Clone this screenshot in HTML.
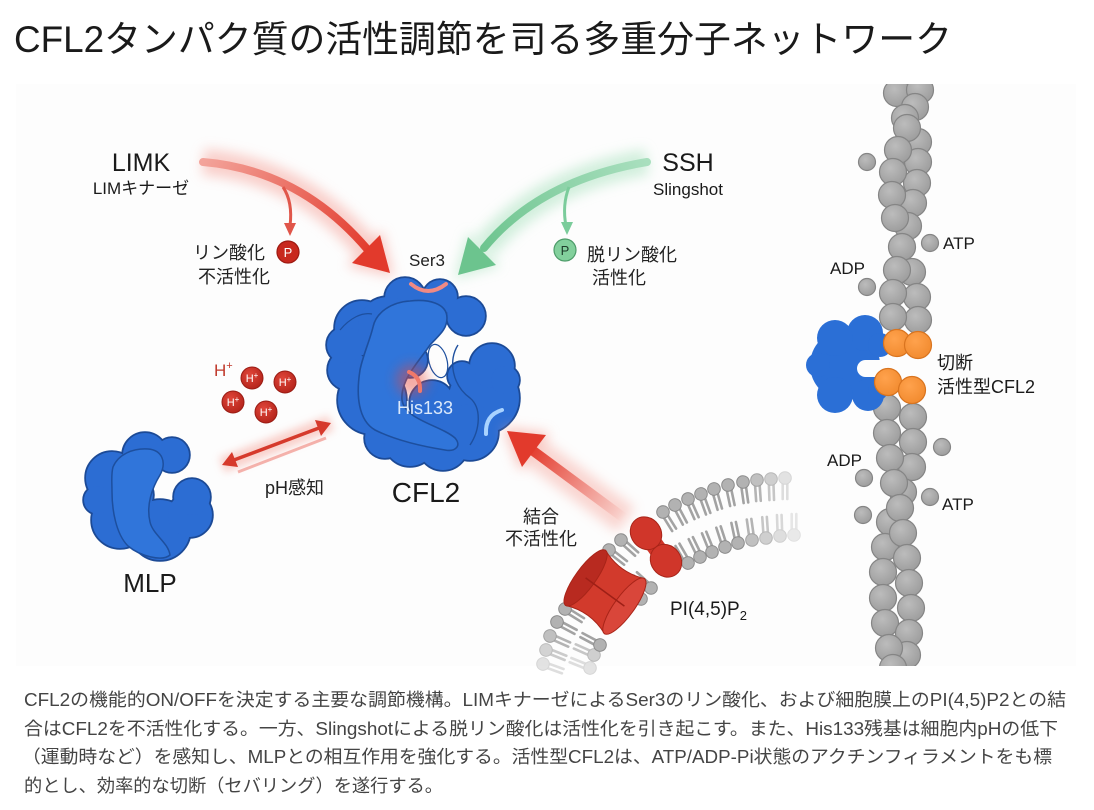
<!DOCTYPE html>
<html><head><meta charset="utf-8">
<style>
html,body{margin:0;padding:0;background:#fff}
svg{display:block}
text{font-family:"Liberation Sans","Noto Sans CJK JP",sans-serif}
</style></head>
<body>
<svg width="1094" height="810" viewBox="0 0 1094 810" xmlns="http://www.w3.org/2000/svg">
<defs>
  <filter id="blur6" x="-50%" y="-50%" width="200%" height="200%"><feGaussianBlur stdDeviation="6"/></filter>
  <filter id="blur4" x="-50%" y="-50%" width="200%" height="200%"><feGaussianBlur stdDeviation="4"/></filter>
  <linearGradient id="limkG" gradientUnits="userSpaceOnUse" x1="203" y1="162" x2="370" y2="255"><stop offset="0" stop-color="#f3a39a"/><stop offset="1" stop-color="#e23a2c"/></linearGradient>
  <linearGradient id="sshG" gradientUnits="userSpaceOnUse" x1="647" y1="162" x2="480" y2="252"><stop offset="0" stop-color="#a9dfbe"/><stop offset="1" stop-color="#6cc48e"/></linearGradient>
  <linearGradient id="memG" gradientUnits="userSpaceOnUse" x1="624" y1="518" x2="530" y2="448"><stop offset="0" stop-color="#e33a2c" stop-opacity="0"/><stop offset="1" stop-color="#e33a2c"/></linearGradient>
  <radialGradient id="gg" cx="0.4" cy="0.35" r="0.7"><stop offset="0" stop-color="#bcbcbc"/><stop offset="1" stop-color="#9c9c9c"/></radialGradient>
  <radialGradient id="hg" cx="0.4" cy="0.35" r="0.7"><stop offset="0" stop-color="#e0463a"/><stop offset="1" stop-color="#b3231a"/></radialGradient>
  <radialGradient id="og" cx="0.4" cy="0.35" r="0.7"><stop offset="0" stop-color="#ffa24d"/><stop offset="1" stop-color="#f18a2e"/></radialGradient>
  <clipPath id="panelClip"><rect x="0" y="84" width="1094" height="582"/></clipPath>
  <g id="lip">
    <line x1="-2.3" y1="5" x2="-2.3" y2="21" stroke="#a3a3a3" stroke-width="2.6" stroke-linecap="round"/>
    <line x1="2.3" y1="5" x2="2.3" y2="21" stroke="#a3a3a3" stroke-width="2.6" stroke-linecap="round"/>
    <circle r="6.3" fill="#b2b2b2" stroke="#8c8c8c" stroke-width="1"/>
  </g>
  <g id="c2">
    <circle cx="405" cy="298" r="20"/><circle cx="440" cy="297" r="17"/><circle cx="466" cy="316" r="19"/>
    <circle cx="362" cy="328" r="27"/><circle cx="388" cy="327" r="30"/><circle cx="348" cy="370" r="20"/>
    <circle cx="372" cy="400" r="34"/><circle cx="385" cy="438" r="20"/><circle cx="410" cy="440" r="26"/>
    <circle cx="443" cy="445" r="25"/><circle cx="484" cy="398" r="35"/><circle cx="492" cy="366" r="22"/>
    <circle cx="470" cy="432" r="28"/><circle cx="410" cy="360" r="17"/><circle cx="432" cy="403" r="22"/>
    <circle cx="462" cy="376" r="14"/><circle cx="345" cy="345" r="18"/><circle cx="505" cy="380" r="14"/>
  </g>
  <g id="mlp">
    <circle cx="112" cy="478" r="26"/><circle cx="145" cy="455" r="22"/><circle cx="172" cy="455" r="17"/>
    <circle cx="120" cy="520" r="28"/><circle cx="160" cy="530" r="30"/><circle cx="190" cy="515" r="22"/>
    <circle cx="192" cy="497" r="18"/><circle cx="135" cy="495" r="18"/><circle cx="98" cy="500" r="14"/>
  </g>
</defs>

<rect x="0" y="0" width="1094" height="810" fill="#fff"/>
<rect x="16" y="84" width="1060" height="582" fill="#fdfdfd"/>

<!-- Title -->
<text x="14" y="52" font-size="37" textLength="938" lengthAdjust="spacingAndGlyphs" fill="#1a1a1a">CFL2タンパク質の活性調節を司る多重分子ネットワーク</text>

<!-- LIMK arrow -->
<path d="M203,162 Q300,170 368,250" stroke="#f6a9a0" stroke-width="26" fill="none" opacity="0.55" filter="url(#blur6)"/>
<polygon points="394,277 382,230 347,266" fill="#f6a9a0" opacity="0.6" filter="url(#blur6)"/>
<path d="M203,162 Q300,170 368,250" stroke="url(#limkG)" stroke-width="8" fill="none" stroke-linecap="round"/>
<polygon points="390,273 380,235 352,263" fill="#e23a2c"/>
<path d="M283,187 Q293,202 290,226" stroke="#e0564a" stroke-width="3" fill="none"/>
<polygon points="290,236 284,223 296,223" fill="#e0564a"/>

<!-- SSH arrow -->
<path d="M647,162 Q540,180 484,248" stroke="#bfe9cf" stroke-width="26" fill="none" opacity="0.7" filter="url(#blur6)"/>
<polygon points="454,279 500,266 468,232" fill="#bfe9cf" opacity="0.7" filter="url(#blur6)"/>
<path d="M647,162 Q540,180 484,248" stroke="url(#sshG)" stroke-width="8" fill="none" stroke-linecap="round"/>
<polygon points="458,275 496,265 468,237" fill="#6cc48e"/>
<path d="M569,187 Q562,205 566,226" stroke="#7bcc9b" stroke-width="3" fill="none"/>
<polygon points="567,235 561,222 573,222" fill="#7bcc9b"/>

<!-- LIMK / SSH labels -->
<text x="141" y="171" font-size="25" text-anchor="middle" fill="#1a1a1a">LIMK</text>
<text x="141" y="194" font-size="17" text-anchor="middle" fill="#1a1a1a">LIMキナーゼ</text>
<text x="688" y="171" font-size="25" text-anchor="middle" fill="#1a1a1a">SSH</text>
<text x="688" y="195" font-size="17" text-anchor="middle" fill="#1a1a1a">Slingshot</text>

<!-- P circles -->
<circle cx="288" cy="252" r="11" fill="#c8281e" stroke="#9e1a12" stroke-width="1.2"/>
<text x="288" y="257" font-size="13" text-anchor="middle" fill="#fff">P</text>
<text x="193" y="259" font-size="18" fill="#222">リン酸化</text>
<text x="198" y="283" font-size="18" fill="#222">不活性化</text>

<circle cx="565" cy="250" r="11" fill="#82d09c" stroke="#4e9c6a" stroke-width="1.2"/>
<text x="565" y="255" font-size="13" text-anchor="middle" fill="#1e3d2a">P</text>
<text x="587" y="261" font-size="18" fill="#222">脱リン酸化</text>
<text x="592" y="284" font-size="18" fill="#222">活性化</text>

<text x="427" y="266" font-size="17" text-anchor="middle" fill="#222">Ser3</text>

<!-- CFL2 protein -->
<use href="#c2" fill="#1c4a96" stroke="#1c4a96" stroke-width="3.5"/>
<use href="#c2" fill="#2c6dd3"/>
<path d="M373,327 C376,312 392,302 410,301 C428,299 447,303 447,318 C447,330 438,336 430,345 C420,360 400,380 402,400 C405,420 440,425 455,438 C462,446 455,452 445,450 C420,446 395,440 375,430 C358,420 356,395 360,370 C363,355 370,340 373,327 Z" fill="#3075da" stroke="#1d4f9e" stroke-width="1.6"/>
<path d="M458,345 C448,360 452,385 470,398 C482,408 480,430 470,445" fill="none" stroke="#1d4f9e" stroke-width="1.4"/>
<path d="M340,330 C350,318 362,312 372,314" fill="none" stroke="#1d4f9e" stroke-width="1.2"/>
<ellipse cx="438" cy="361" rx="9" ry="17" transform="rotate(-15 438 361)" fill="#fdfdfd" stroke="#1d4f9e" stroke-width="1.2"/>
<circle cx="412" cy="380" r="16" fill="#e8463a" opacity="0.45" filter="url(#blur6)"/>
<path d="M411,284 Q428,298 446,284" stroke="#f08a84" stroke-width="4" fill="none" stroke-linecap="round"/>
<path d="M409,372 Q421,377 420,391" stroke="#f0796a" stroke-width="4" fill="none" stroke-linecap="round"/>
<path d="M486,434 Q485,415 502,410" stroke="#a9d3ff" stroke-width="4" fill="none" stroke-linecap="round"/>
<text x="425" y="414" font-size="18" text-anchor="middle" fill="#dbe9fb">His133</text>
<text x="426" y="502" font-size="28" text-anchor="middle" fill="#1a1a1a">CFL2</text>

<!-- H+ -->
<text x="214" y="376" font-size="17" fill="#c0392b">H<tspan font-size="11" dy="-7">+</tspan></text>
<g font-size="11" fill="#fff" text-anchor="middle">
  <circle cx="252" cy="378" r="11" fill="url(#hg)" stroke="#9a1c14" stroke-width="1"/>
  <text x="252" y="382">H<tspan font-size="8" dy="-4">+</tspan></text>
  <circle cx="285" cy="382" r="11" fill="url(#hg)" stroke="#9a1c14" stroke-width="1"/>
  <text x="285" y="386">H<tspan font-size="8" dy="-4">+</tspan></text>
  <circle cx="233" cy="402" r="11" fill="url(#hg)" stroke="#9a1c14" stroke-width="1"/>
  <text x="233" y="406">H<tspan font-size="8" dy="-4">+</tspan></text>
  <circle cx="266" cy="412" r="11" fill="url(#hg)" stroke="#9a1c14" stroke-width="1"/>
  <text x="266" y="416">H<tspan font-size="8" dy="-4">+</tspan></text>
</g>

<!-- pH double arrow -->
<line x1="222" y1="465" x2="331" y2="423" stroke="#f5a49a" stroke-width="16" opacity="0.5" filter="url(#blur4)"/>
<line x1="238" y1="472" x2="326" y2="438" stroke="#f29a92" stroke-width="3" opacity="0.75"/>
<line x1="234" y1="460" x2="319" y2="428" stroke="#d63a2c" stroke-width="3.5"/>
<polygon points="331,423 321,436 315,420" fill="#d63a2c"/>
<polygon points="222,465 238,467 232,452" fill="#d63a2c"/>
<text x="265" y="494" font-size="18" fill="#222">pH感知</text>

<!-- MLP -->
<use href="#mlp" fill="#1c4a96" stroke="#1c4a96" stroke-width="3.5"/>
<use href="#mlp" fill="#2c6dd3"/>
<path d="M113,467 C118,455 132,448 148,449 C162,450 167,462 160,475 C152,488 146,505 150,522 C153,535 168,542 170,555 C162,562 140,556 128,546 C116,534 112,510 112,492 C112,482 111,474 113,467 Z" fill="#3075da" stroke="#1d4f9e" stroke-width="1.5"/>
<text x="150" y="592" font-size="26" text-anchor="middle" fill="#1a1a1a">MLP</text>

<!-- membrane arrow -->
<path d="M626,520 L532,450" stroke="#f5a49a" stroke-width="30" opacity="0.45" filter="url(#blur6)"/>
<polygon points="503,427 550,433 520,471" fill="#f5a49a" opacity="0.6" filter="url(#blur6)"/>
<line x1="624" y1="518" x2="532" y2="450" stroke="url(#memG)" stroke-width="10"/>
<polygon points="507,431 546,435 522,467" fill="#e23a2c"/>
<text x="523" y="523" font-size="18" fill="#222">結合</text>
<text x="505" y="545" font-size="18" fill="#222">不活性化</text>

<!-- membrane lipids -->
<g>
  <use href="#lip" transform="translate(543,664) rotate(-70)" opacity="0.35"/>
  <use href="#lip" transform="translate(546,650) rotate(-68)" opacity="0.55"/>
  <use href="#lip" transform="translate(550,636) rotate(-66)" opacity="0.8"/>
  <use href="#lip" transform="translate(557,622) rotate(-62)"/>
  <use href="#lip" transform="translate(565,609) rotate(-58)"/>
  <use href="#lip" transform="translate(609,550) rotate(-52)"/>
  <use href="#lip" transform="translate(621,540) rotate(-48)"/>
  <use href="#lip" transform="translate(663,512) rotate(-32)"/>
  <use href="#lip" transform="translate(675,505) rotate(-28)"/>
  <use href="#lip" transform="translate(688,499) rotate(-24)"/>
  <use href="#lip" transform="translate(701,494) rotate(-20)"/>
  <use href="#lip" transform="translate(714,489) rotate(-16)"/>
  <use href="#lip" transform="translate(728,485) rotate(-12)"/>
  <use href="#lip" transform="translate(743,482) rotate(-8)"/>
  <use href="#lip" transform="translate(757,480) rotate(-4)" opacity="0.8"/>
  <use href="#lip" transform="translate(771,479) rotate(-2)" opacity="0.6"/>
  <use href="#lip" transform="translate(785,478) rotate(0)" opacity="0.35"/>

  <use href="#lip" transform="translate(590,668) rotate(112)" opacity="0.35"/>
  <use href="#lip" transform="translate(594,655) rotate(114)" opacity="0.6"/>
  <use href="#lip" transform="translate(600,645) rotate(118)"/>
  <use href="#lip" transform="translate(641,599) rotate(128)"/>
  <use href="#lip" transform="translate(651,588) rotate(132)"/>
  <use href="#lip" transform="translate(688,563) rotate(150)"/>
  <use href="#lip" transform="translate(700,557) rotate(154)"/>
  <use href="#lip" transform="translate(712,552) rotate(158)"/>
  <use href="#lip" transform="translate(725,547) rotate(162)"/>
  <use href="#lip" transform="translate(738,543) rotate(168)"/>
  <use href="#lip" transform="translate(752,540) rotate(172)" opacity="0.8"/>
  <use href="#lip" transform="translate(766,538) rotate(176)" opacity="0.6"/>
  <use href="#lip" transform="translate(780,536) rotate(178)" opacity="0.4"/>
  <use href="#lip" transform="translate(794,535) rotate(180)" opacity="0.25"/>
</g>
<!-- barrel protein -->
<g transform="translate(605,592) rotate(36)">
  <path d="M-24,-34 Q0,-24 24,-34 L24,34 Q0,24 -24,34 Z" fill="#d23a2c" stroke="#a82418" stroke-width="1"/>
  <ellipse cx="24" cy="0" rx="10" ry="34" fill="#d9463a" stroke="#a82418" stroke-width="1"/>
  <ellipse cx="-24" cy="0" rx="10" ry="34" fill="#b82a20" stroke="#a82418" stroke-width="1"/>
  <line x1="-24" y1="0" x2="24" y2="0" stroke="#9e1f16" stroke-width="1.5"/>
</g>
<!-- dumbbell protein -->
<g transform="translate(656,547) rotate(54)">
  <rect x="-6" y="-9" width="12" height="18" fill="#d0362a"/>
  <ellipse cx="-17" cy="0" rx="17" ry="15" fill="#d0362a" stroke="#a82418" stroke-width="1"/>
  <ellipse cx="17" cy="0" rx="17" ry="15" fill="#d0362a" stroke="#a82418" stroke-width="1"/>
</g>
<text x="670" y="615" font-size="19" fill="#1a1a1a">PI(4,5)P<tspan font-size="13" dy="5">2</tspan></text>

<!-- Actin filament -->
<g clip-path="url(#panelClip)" fill="url(#gg)" stroke="#858585" stroke-width="1.2">
  <circle cx="897" cy="93" r="13.5"/><circle cx="920" cy="90" r="13.5"/><circle cx="915" cy="107" r="13.5"/>
  <circle cx="905" cy="118" r="13.5"/><circle cx="918" cy="142" r="13.5"/><circle cx="907" cy="128" r="13.5"/>
  <circle cx="918" cy="162" r="13.5"/><circle cx="898" cy="150" r="13.5"/>
  <circle cx="917" cy="183" r="13.5"/><circle cx="893" cy="172" r="13.5"/>
  <circle cx="913" cy="203" r="13.5"/><circle cx="892" cy="195" r="13.5"/>
  <circle cx="908" cy="226" r="13.5"/><circle cx="895" cy="218" r="13.5"/>
  <circle cx="902" cy="247" r="13.5"/>
  <circle cx="912" cy="272" r="13.5"/><circle cx="897" cy="270" r="13.5"/>
  <circle cx="917" cy="297" r="13.5"/><circle cx="893" cy="293" r="13.5"/>
  <circle cx="918" cy="320" r="13.5"/><circle cx="893" cy="317" r="13.5"/>

  <circle cx="913" cy="417" r="13.5"/><circle cx="887" cy="408" r="13.5"/>
  <circle cx="913" cy="442" r="13.5"/><circle cx="887" cy="433" r="13.5"/>
  <circle cx="912" cy="467" r="13.5"/><circle cx="890" cy="458" r="13.5"/>
  <circle cx="903" cy="492" r="13.5"/><circle cx="894" cy="483" r="13.5"/>
  <circle cx="890" cy="522" r="13.5"/><circle cx="900" cy="508" r="13.5"/>
  <circle cx="885" cy="547" r="13.5"/><circle cx="903" cy="533" r="13.5"/>
  <circle cx="907" cy="558" r="13.5"/>
  <circle cx="883" cy="572" r="13.5"/><circle cx="909" cy="583" r="13.5"/>
  <circle cx="883" cy="598" r="13.5"/><circle cx="911" cy="608" r="13.5"/>
  <circle cx="885" cy="623" r="13.5"/><circle cx="909" cy="633" r="13.5"/>
  <circle cx="907" cy="655" r="13.5"/><circle cx="889" cy="648" r="13.5"/>
  <circle cx="893" cy="668" r="13.5"/>
</g>
<!-- nucleotides -->
<g fill="url(#gg)" stroke="#858585" stroke-width="1.2">
  <circle cx="867" cy="162" r="8.5"/><circle cx="930" cy="243" r="8.5"/><circle cx="867" cy="287" r="8.5"/>
  <circle cx="942" cy="447" r="8.5"/><circle cx="864" cy="478" r="8.5"/><circle cx="930" cy="497" r="8.5"/>
  <circle cx="863" cy="515" r="8.5"/>
</g>
<!-- CFL2 on actin -->
<g fill="#2b6fd6">
  <circle cx="845" cy="365" r="35"/><circle cx="865" cy="333" r="18"/><circle cx="835" cy="338" r="18"/>
  <circle cx="868" cy="395" r="16"/><circle cx="835" cy="395" r="18"/><circle cx="880" cy="345" r="12"/>
  <circle cx="878" cy="390" r="10"/><circle cx="818" cy="365" r="12"/>
</g>
<rect x="857" y="360" width="34" height="17" rx="8.5" fill="#fdfdfd"/>
<g fill="url(#og)" stroke="#d9741f" stroke-width="1.2">
  <circle cx="897" cy="343" r="13.5"/><circle cx="918" cy="345" r="13.5"/>
  <circle cx="888" cy="382" r="13.5"/><circle cx="912" cy="390" r="13.5"/>
</g>
<g font-size="17" fill="#1a1a1a">
  <text x="943" y="249">ATP</text>
  <text x="830" y="274">ADP</text>
  <text x="937" y="369" font-size="18">切断</text>
  <text x="937" y="393" font-size="18">活性型CFL2</text>
  <text x="827" y="466">ADP</text>
  <text x="942" y="510">ATP</text>
</g>

<!-- Caption -->
<g font-size="18" fill="#444">
  <text x="24" y="706" textLength="1042" lengthAdjust="spacingAndGlyphs">CFL2の機能的ON/OFFを決定する主要な調節機構。LIMキナーゼによるSer3のリン酸化、および細胞膜上のPI(4,5)P2との結</text>
  <text x="24" y="735" textLength="1034" lengthAdjust="spacingAndGlyphs">合はCFL2を不活性化する。一方、Slingshotによる脱リン酸化は活性化を引き起こす。また、His133残基は細胞内pHの低下</text>
  <text x="22" y="763" textLength="1030" lengthAdjust="spacingAndGlyphs">（運動時など）を感知し、MLPとの相互作用を強化する。活性型CFL2は、ATP/ADP-Pi状態のアクチンフィラメントをも標</text>
  <text x="24" y="792" textLength="419" lengthAdjust="spacingAndGlyphs">的とし、効率的な切断（セバリング）を遂行する。</text>
</g>
</svg>
</body></html>
